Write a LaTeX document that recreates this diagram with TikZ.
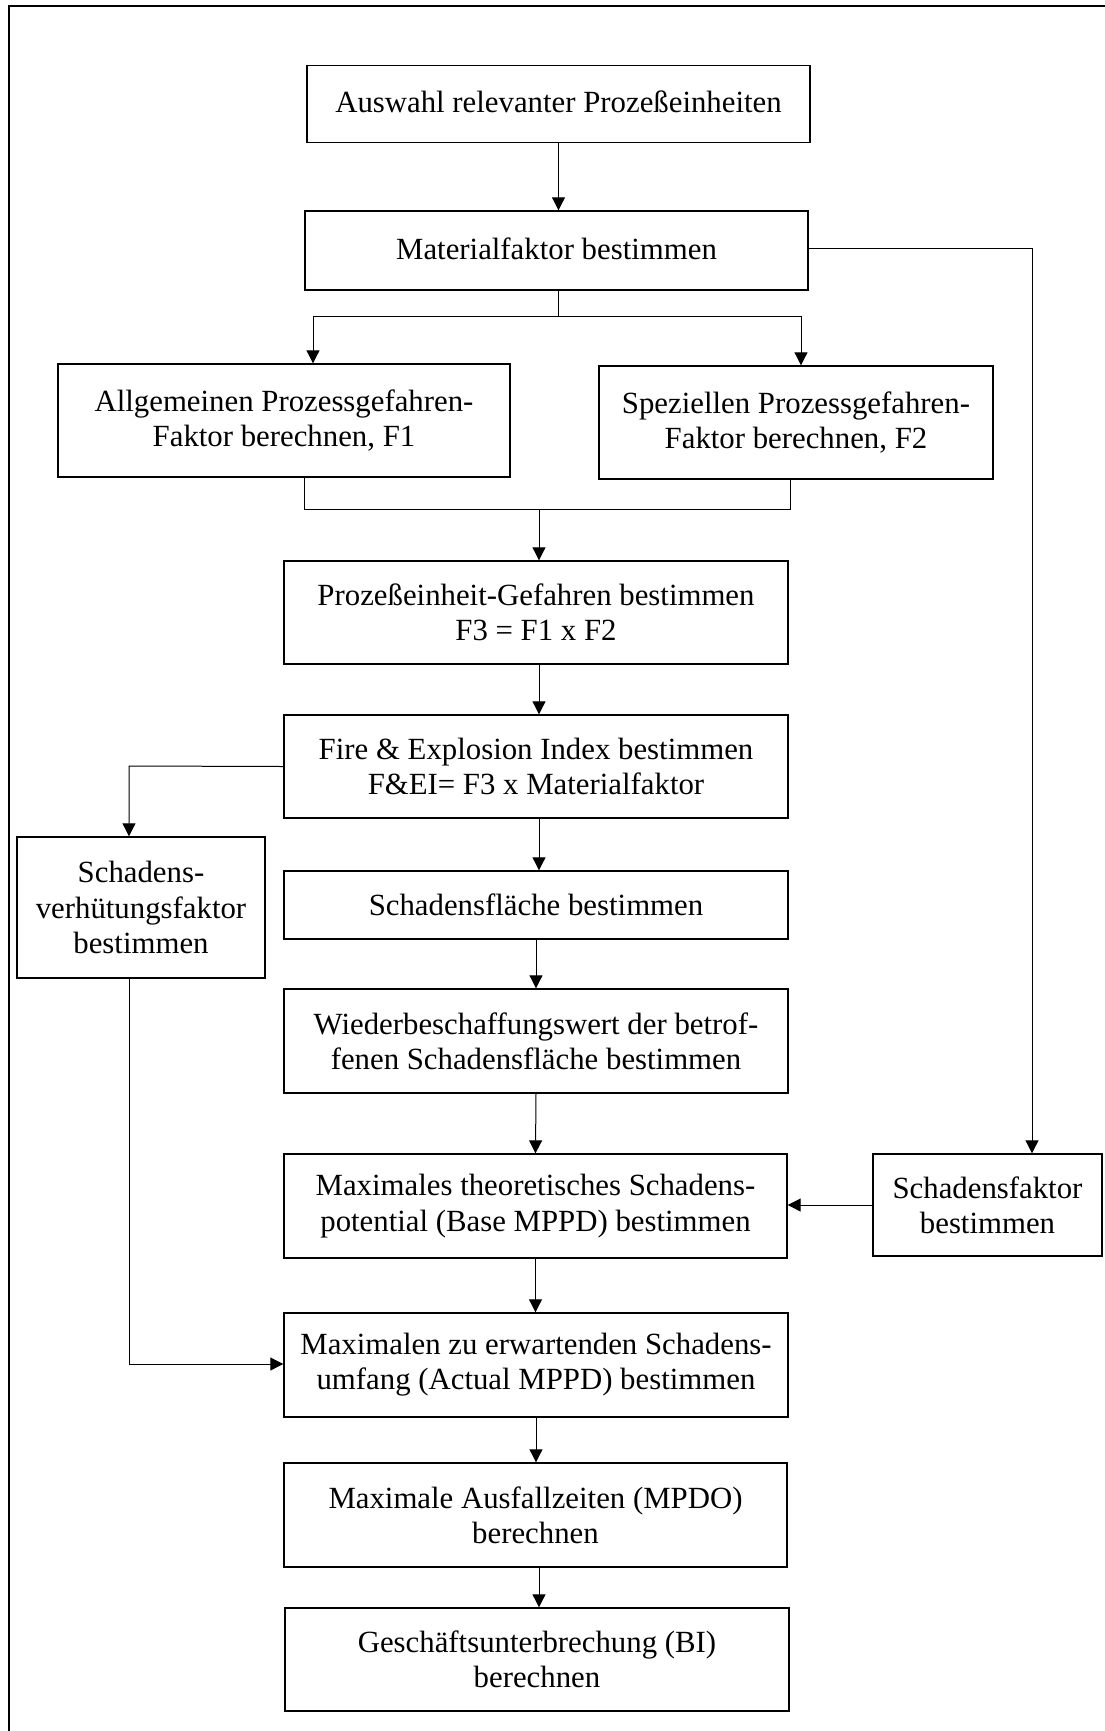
\documentclass[tikz,border=0pt]{standalone}
\usepackage{fontspec}
\setmainfont{Liberation Serif}
\usetikzlibrary{arrows.meta}
\begin{document}
\begin{tikzpicture}[x=0.5pt,y=-0.5pt,
  box/.style={draw,line width=0.7pt,align=center,inner sep=0pt,font=\fontsize{15.4}{17.6}\selectfont},
  conn/.style={line width=0.5pt},
  arr/.style={line width=0.5pt,-{Triangle[length=6.5pt,width=6.5pt]}}]
\useasboundingbox (0,0) rectangle (1104,1731);
\draw[line width=1pt] (9,1800) -- (9,6) -- (1200,6);
% boxes
\node[box,minimum width=251.5pt,minimum height=38.5pt] (b1) at (558.5,104) {\raisebox{2pt}{Auswahl relevanter Prozeßeinheiten}};
\node[box,minimum width=251.5pt,minimum height=39.5pt] (b2) at (556.5,250.5) {\raisebox{2pt}{Materialfaktor bestimmen}};
\node[box,minimum width=226pt,minimum height=56.5pt] (b3) at (284,420.5) {Allgemeinen Prozessgefahren-\\Faktor berechnen, F1};
\node[box,minimum width=197pt,minimum height=56.5pt] (b4) at (796,422.5) {Speziellen Prozessgefahren-\\Faktor berechnen, F2};
\node[box,minimum width=252pt,minimum height=51.5pt] (b5) at (536,612.5) {Prozeßeinheit-Gefahren bestimmen\\F3 = F1 x F2};
\node[box,minimum width=252pt,minimum height=51.5pt] (b6) at (536,766.5) {Fire \& Explosion Index bestimmen\\F\&EI= F3 x Materialfaktor};
\node[box,minimum width=124pt,minimum height=70.5pt] (b7) at (141,907.5) {Schadens-\\verhütungsfaktor\\bestimmen};
\node[box,minimum width=252pt,minimum height=34pt] (b8) at (536,905) {Schadensfläche bestimmen};
\node[box,minimum width=252pt,minimum height=52pt] (b9) at (536,1041) {Wiederbeschaffungswert der betrof-\\fenen Schadensfläche bestimmen};
\node[box,minimum width=251.5pt,minimum height=52pt] (b10) at (535.5,1206) {Maximales theoretisches Schadens-\\potential (Base MPPD) bestimmen};
\node[box,minimum width=114.5pt,minimum height=51pt] (b11) at (987.5,1205) {Schadensfaktor\\bestimmen};
\node[box,minimum width=252pt,minimum height=52pt] (b12) at (536,1365) {Maximalen zu erwartenden Schadens-\\umfang (Actual MPPD) bestimmen};
\node[box,minimum width=251.5pt,minimum height=52pt] (b13) at (535.5,1515) {Maximale Ausfallzeiten (MPDO)\\berechnen};
\node[box,minimum width=252pt,minimum height=51.5pt] (b14) at (537,1659.5) {Geschäftsunterbrechung (BI)\\berechnen};
% helper coordinates
\coordinate (s1) at (558,316);
\coordinate (jl) at (313,316);
\coordinate (jr) at (801,316);
\coordinate (ml) at (304,509);
\coordinate (mr) at (790,509);
\coordinate (mm) at (539,509);
\coordinate (k1) at (129,766);
\coordinate (k2) at (129,1364);
\coordinate (r1) at (1032,248);
% connectors
\draw[arr] (b1.south) -- (b1.south |- b2.north);
\draw[conn] (s1 |- b2.south) -- (s1);
\draw[conn] (jl) -- (jr);
\draw[arr] (jl) -- (jl |- b3.north);
\draw[arr] (jr) -- (jr |- b4.north);
\draw[conn] (ml |- b3.south) -- (ml) -- (mr) -- (mr |- b4.south);
\draw[arr] (mm) -- (mm |- b5.north);
\draw[arr] (mm |- b5.south) -- (mm |- b6.north);
\draw[arr] (b6.west) -- (k1) -- (k1 |- b7.north);
\draw[arr] (mm |- b6.south) -- (mm |- b8.north);
\draw[arr] (b8.south) -- (b9.north);
\draw[arr] (b9.south) -- (b10.north);
\draw[arr] (b2.east |- r1) -- (r1) -- (r1 |- b11.north);
\draw[arr] (b11.west) -- (b11.west -| b10.east);
\draw[arr] (b10.south) -- (b10.south |- b12.north);
\draw[arr] (k2 |- b7.south) -- (k2) -- (k2 -| b12.west);
\draw[arr] (b12.south) -- (b12.south |- b13.north);
\draw[arr] (mm |- b13.south) -- (mm |- b14.north);
\end{tikzpicture}
\end{document}
